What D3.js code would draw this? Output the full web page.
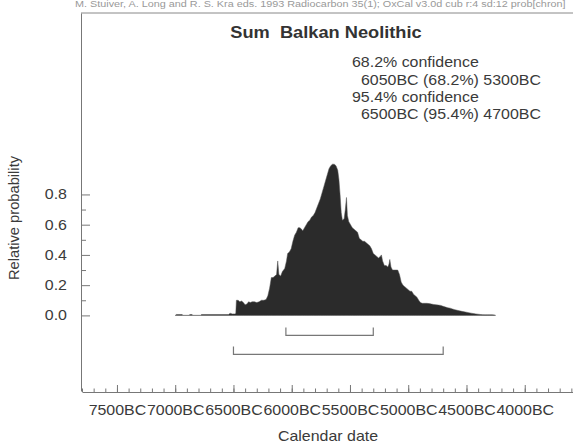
<!DOCTYPE html>
<html>
<head>
<meta charset="utf-8">
<script src="https://cdn.jsdelivr.net/npm/d3@7"></script>
<style>
  body { margin: 0; background: #fff; }
  text { font-family: Arial, "Liberation Sans", sans-serif; fill: #3a3a3a; white-space: pre; }
</style>
</head>
<body>
<div id="chart"></div>
<script>
// Data (years BC, relative probability)
var years = [7000, 6990, 6940, 6935, 6880, 6875, 6855, 6850, 6780, 6775, 6540, 6530, 6510, 6490, 6480,
  6475, 6460, 6445, 6430, 6415, 6400, 6385, 6370, 6355, 6340, 6320, 6300, 6280, 6260, 6240, 6220,
  6205, 6190, 6175, 6160, 6145, 6130, 6120, 6110, 6095, 6080, 6060, 6045, 6035, 6020, 6005, 5990,
  5975, 5960, 5945, 5930, 5915, 5905, 5890, 5875, 5860, 5845, 5830, 5815, 5800, 5785, 5770, 5755,
  5740, 5725, 5710, 5695, 5680, 5665, 5650, 5635, 5620, 5605, 5595, 5585, 5575, 5565, 5550, 5540,
  5530, 5522, 5510, 5495, 5480, 5465, 5450, 5435, 5420, 5405, 5390, 5375, 5360, 5345, 5330, 5315,
  5300, 5285, 5270, 5255, 5240, 5230, 5220, 5205, 5190, 5175, 5165, 5158, 5148, 5135, 5120, 5105,
  5090, 5075, 5060, 5045, 5030, 5015, 5000, 4985, 4970, 4955, 4940, 4925, 4910, 4895, 4880, 4860,
  4840, 4820, 4800, 4780, 4760, 4740, 4720, 4700, 4680, 4660, 4640, 4620, 4600, 4580, 4560, 4540,
  4520, 4500, 4480, 4460, 4440, 4420, 4400, 4380, 4360, 4340, 4320, 4300, 4280, 4260, 4250];
var prob = [0, 0.006, 0.006, 0, 0, 0.006, 0.006, 0, 0, 0.006, 0.006, 0.015, 0.01, 0.01, 0.012,
  0.10, 0.10, 0.09, 0.095, 0.085, 0.07, 0.075, 0.09, 0.085, 0.09, 0.09, 0.085, 0.09, 0.10, 0.10, 0.105,
  0.13, 0.18, 0.25, 0.25, 0.26, 0.27, 0.36, 0.27, 0.26, 0.29, 0.31, 0.36, 0.41, 0.42, 0.44, 0.49,
  0.53, 0.55, 0.58, 0.58, 0.57, 0.56, 0.58, 0.60, 0.62, 0.63, 0.65, 0.66, 0.68, 0.71, 0.74, 0.77,
  0.81, 0.85, 0.89, 0.93, 0.97, 0.99, 1.0, 1.0, 0.99, 0.96, 0.90, 0.80, 0.68, 0.63, 0.64, 0.70,
  0.78, 0.66, 0.62, 0.60, 0.58, 0.57, 0.56, 0.55, 0.51, 0.50, 0.49, 0.49, 0.48, 0.47, 0.46, 0.44,
  0.41, 0.40, 0.39, 0.38, 0.39, 0.40, 0.36, 0.33, 0.33, 0.32, 0.34, 0.37, 0.32, 0.30, 0.30, 0.30,
  0.30, 0.27, 0.22, 0.20, 0.19, 0.18, 0.17, 0.16, 0.16, 0.14, 0.13, 0.12, 0.10, 0.085, 0.08, 0.08,
  0.08, 0.078, 0.075, 0.072, 0.07, 0.068, 0.066, 0.06, 0.055, 0.05, 0.048, 0.042, 0.038, 0.034, 0.03, 0.027,
  0.024, 0.021, 0.018, 0.015, 0.012, 0.01, 0.008, 0.006, 0.005, 0.004, 0.004, 0.004, 0.004, 0.003, 0];

var conf68 = [6050, 5300];
var conf95 = [6500, 4700];
var majorTicks = [7500, 7000, 6500, 6000, 5500, 5000, 4500, 4000];
var yTicks = [0, 0.2, 0.4, 0.6, 0.8];

var title = "Sum  Balkan Neolithic";
var header = "M. Stuiver, A. Long and R. S. Kra eds. 1993 Radiocarbon 35(1); OxCal v3.0d cub r:4 sd:12 prob[chron]";

var svgWidth = 573;
var svgHeight = 444;
var stretch = 1.14; // the scan is a bit wider than tall

var svg = d3.select("#chart")
  .append("svg")
  .attr("width", svgWidth)
  .attr("height", svgHeight);

// scales: BC years as negative numbers so time runs left to right
var x = d3.scaleLinear()
  .domain([-7800, -3500])
  .range([82, 583]);

var y = d3.scaleLinear()
  .domain([-0.5, 2.0])
  .range([391, 13]);

function addText(px, py, str, size, anchor, weight) {
  return svg.append("text")
    .attr("transform", `translate(${px}, ${py}) scale(${stretch}, 1)`)
    .attr("font-size", size)
    .attr("text-anchor", anchor || "start")
    .attr("font-weight", weight || "normal")
    .text(str);
}

// header line (cut at the top of the scan)
addText(75, 7, header, 9.5).style("fill", "#999");

// top frame line
svg.append("line")
  .attr("x1", 81).attr("x2", svgWidth)
  .attr("y1", 13).attr("y2", 13)
  .attr("stroke", "#888");

// distribution
var pts = years.map((d, i) => ({ year: d, p: prob[i] }));
var area = d3.area()
  .x(d => x(-d.year))
  .y0(y(0))
  .y1(d => y(d.p));

svg.append("path")
  .datum(pts)
  .attr("d", area)
  .attr("fill", "#2b2b2b")
  .attr("stroke", "#555")
  .attr("stroke-width", 0.5);

// confidence brackets
var brackets = [{ r: conf68, off: 20 }, { r: conf95, off: 39 }];
brackets.forEach(function(b) {
  var by = y(0) + b.off;
  svg.append("path")
    .attr("d", `M${x(-b.r[0])},${by - 8}V${by}H${x(-b.r[1])}V${by - 8}`)
    .attr("fill", "none")
    .attr("stroke", "#777")
    .attr("stroke-width", 1.2);
});

// x axis: minor ticks every 100 years, labelled majors every 500
var minorTicks = d3.range(-7800, -3499, 100);
svg.append("g")
  .attr("transform", "translate(0, 392)")
  .call(d3.axisBottom(x).tickValues(minorTicks).tickSizeInner(-3.5).tickSizeOuter(0).tickFormat(""))
  .call(g => g.selectAll("line, path").attr("stroke", "#777"));

var xAxis = svg.append("g")
  .attr("transform", "translate(0, 392)")
  .call(d3.axisBottom(x).tickValues(majorTicks.map(d => -d)).tickSizeInner(-7).tickSizeOuter(0)
    .tickFormat(d => (-d) + "BC"));
xAxis.select(".domain").remove();
xAxis.selectAll("line").attr("stroke", "#777");
xAxis.selectAll("text")
  .attr("y", 23).attr("dy", 0)
  .attr("font-size", 14)
  .attr("font-family", null)
  .attr("fill", null)
  .attr("transform", `scale(${stretch}, 1)`);

// y axis: ticks inside, labels outside
var yMinor = d3.range(0, 0.75, 0.1).filter(d => Math.round(d * 10) % 2 == 1);
svg.append("g")
  .attr("transform", "translate(81, 0)")
  .call(d3.axisLeft(y).tickValues(yMinor).tickSizeInner(-5).tickSizeOuter(0).tickFormat(""))
  .call(g => g.selectAll("line, path").attr("stroke", "#777"));

var yAxis = svg.append("g")
  .attr("transform", "translate(81, 0)")
  .call(d3.axisLeft(y).tickValues(yTicks).tickSizeInner(-9).tickSizeOuter(0).tickPadding(11)
    .tickFormat(d3.format(".1f")));
yAxis.select(".domain").remove();
yAxis.selectAll("line").attr("stroke", "#777");
yAxis.selectAll("text")
  .attr("font-size", 14)
  .attr("font-family", null)
  .attr("fill", null)
  .attr("transform", function() {
    return `translate(${-11 * (stretch - 1)}, 0) scale(${stretch}, 1)`;
  });

// titles
addText(326, 38, title, 16, "middle", "bold").style("fill", "#333");
addText(352, 67, "68.2% confidence", 14);
addText(361, 85, `${conf68[0]}BC (68.2%) ${conf68[1]}BC`, 14);
addText(352, 102, "95.4% confidence", 14);
addText(361, 119, `${conf95[0]}BC (95.4%) ${conf95[1]}BC`, 14);

addText(328, 441, "Calendar date", 14, "middle");

svg.append("text")
  .attr("transform", `translate(19, 218) rotate(-90) scale(1.05, 1)`)
  .attr("font-size", 14)
  .attr("text-anchor", "middle")
  .text("Relative probability");
</script>
</body>
</html>
